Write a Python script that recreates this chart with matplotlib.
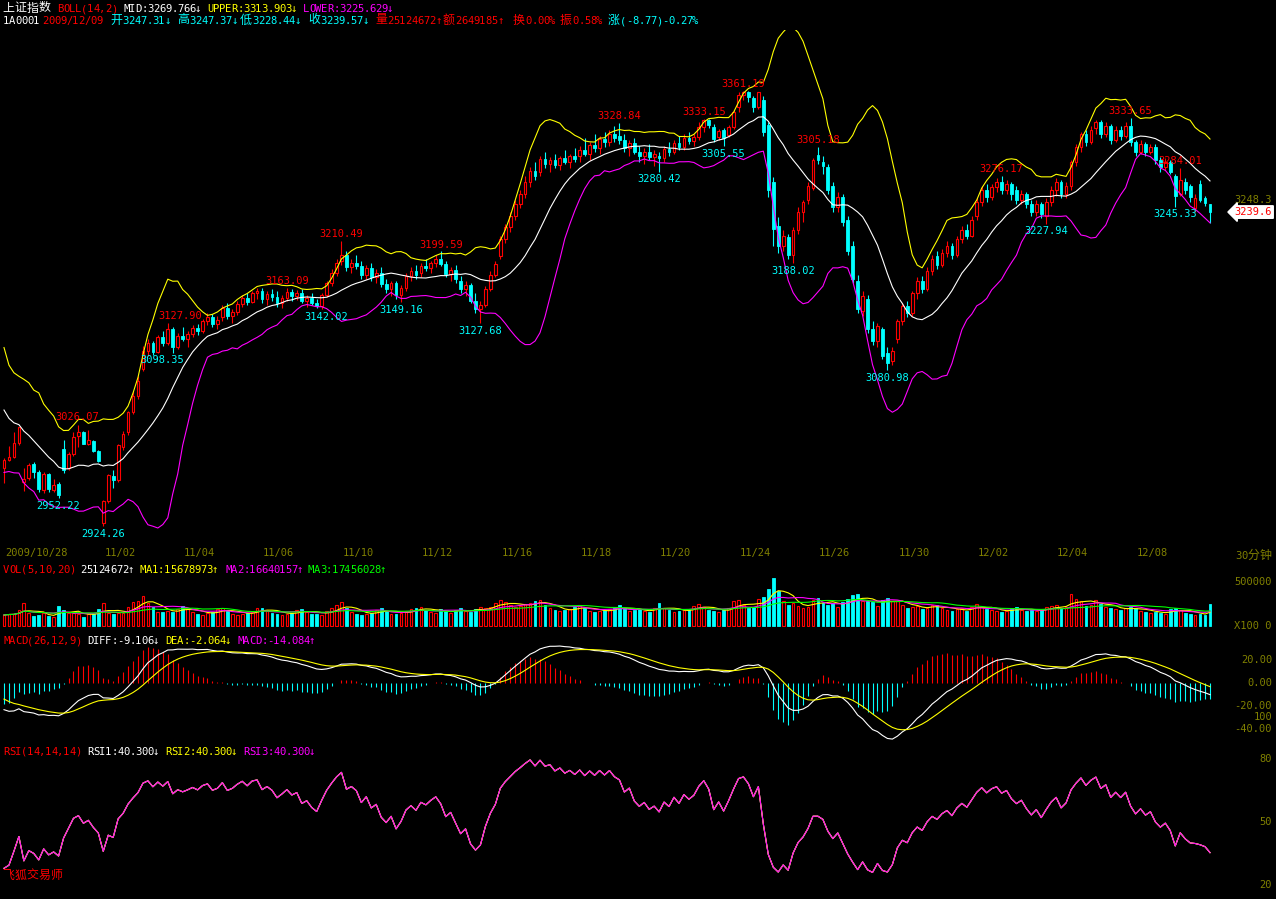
import numpy as np
import pandas as pd
import matplotlib
matplotlib.use('Agg')
import matplotlib.pyplot as plt
from matplotlib.transforms import blended_transform_factory

plt.rcParams['font.family'] = ['DejaVu Sans Mono', 'Noto Sans CJK SC']

RED = '#ff0000'
CYAN = '#00ffff'
YEL = '#ffff00'
MAG = '#ff00ff'
GRN = '#00ff00'
WHT = '#ffffff'
OLV = '#808000'

# 30分钟K线 (10/28下午 ~ 12/09), 每行一天
opens = [
    2982, 2990, 2993, 3007,
    2968, 2972, 2986, 2978, 2960, 2976, 2960, 2966,
    3001, 2982, 2996, 3015, 3019, 3006, 3010, 2999,
    2927, 2949, 2974, 2970, 3003, 3019, 3039, 3055,
    3082, 3100, 3108, 3099, 3114, 3108, 3122, 3104,
    3115, 3112, 3117, 3123, 3120, 3130, 3134, 3127,
    3134, 3143, 3135, 3139, 3147, 3153, 3149, 3158,
    3160, 3152, 3157, 3154, 3148, 3153, 3159, 3155,
    3158, 3150, 3153, 3148, 3145, 3156, 3168, 3178,
    3190, 3196, 3184, 3188, 3185, 3176, 3183, 3174,
    3178, 3167, 3162, 3168, 3156, 3163, 3175, 3180,
    3178, 3185, 3183, 3188, 3192, 3187, 3177, 3181,
    3170, 3162, 3166, 3150, 3142, 3146, 3162, 3176,
    3195, 3212, 3225, 3236, 3248, 3258, 3270, 3281,
    3280, 3293, 3288, 3292, 3287, 3294, 3290, 3296,
    3296, 3302, 3298, 3307, 3304, 3313, 3310, 3318,
    3316, 3312, 3304, 3309, 3300, 3296, 3300, 3295,
    3296, 3294, 3303, 3300, 3309, 3305, 3314, 3311,
    3315, 3325, 3332, 3325, 3315, 3322, 3317, 3325,
    3345, 3357, 3360, 3354, 3345, 3352, 3327, 3270,
    3226, 3205, 3214, 3196, 3222, 3240, 3252, 3264,
    3297, 3290, 3285, 3266, 3245, 3255, 3232, 3205,
    3170, 3140, 3152, 3122, 3110, 3122, 3098, 3090,
    3112, 3130, 3145, 3138, 3158, 3170, 3162, 3180,
    3195, 3186, 3198, 3205, 3196, 3212, 3222, 3216,
    3236, 3250, 3262, 3255, 3265, 3270, 3262, 3268,
    3262, 3252, 3258, 3248, 3240, 3248, 3236, 3250,
    3262, 3270, 3258, 3266, 3290, 3305, 3318, 3310,
    3324, 3330, 3318, 3326, 3312, 3322, 3316, 3326,
    3310, 3300, 3308, 3300, 3305, 3292, 3285, 3290,
    3276, 3258, 3270, 3266, 3244, 3268, 3254, 3247.31,
]
highs = [
    2992, 3004, 3019, 3024,
    2982, 2987, 2988, 2980, 2978, 2977, 2971, 2968,
    3011, 2998, 3019, 3026, 3020, 3021, 3011, 3000,
    2950, 2976, 2980, 3006, 3020, 3040, 3060, 3075,
    3105, 3112, 3110, 3116, 3120, 3128, 3124, 3118,
    3124, 3120, 3126, 3127, 3132, 3138, 3137, 3135,
    3146, 3148, 3142, 3150, 3156, 3158, 3160, 3163,
    3163, 3160, 3162, 3160, 3156, 3163, 3162, 3161,
    3162, 3156, 3158, 3152, 3158, 3170, 3182, 3192,
    3210, 3200, 3192, 3196, 3190, 3186, 3188, 3182,
    3184, 3172, 3170, 3170, 3166, 3178, 3184, 3186,
    3188, 3192, 3190, 3196, 3200, 3190, 3184, 3186,
    3175, 3170, 3168, 3158, 3150, 3165, 3180, 3190,
    3215, 3228, 3240, 3252, 3262, 3276, 3285, 3290,
    3296, 3300, 3295, 3298, 3296, 3302, 3298, 3304,
    3306, 3314, 3310, 3318, 3316, 3320, 3322, 3326,
    3329, 3318, 3312, 3314, 3306, 3304, 3308, 3302,
    3300, 3306, 3310, 3312, 3316, 3318, 3320, 3318,
    3330, 3333, 3333, 3328, 3323, 3324, 3327, 3342,
    3360, 3361, 3361, 3356, 3360, 3356, 3330, 3275,
    3235, 3222, 3218, 3225, 3245, 3252, 3270, 3294,
    3305, 3296, 3288, 3270, 3260, 3258, 3236, 3210,
    3176, 3160, 3156, 3130, 3128, 3124, 3104, 3104,
    3132, 3148, 3150, 3160, 3174, 3175, 3184, 3196,
    3200, 3202, 3210, 3208, 3216, 3226, 3228, 3236,
    3254, 3266, 3268, 3268, 3274, 3276, 3272, 3270,
    3266, 3262, 3260, 3252, 3252, 3250, 3254, 3266,
    3274, 3272, 3270, 3292, 3308, 3320, 3322, 3326,
    3332, 3332, 3330, 3328, 3326, 3326, 3330, 3334,
    3312, 3312, 3310, 3308, 3308, 3295, 3294, 3292,
    3278, 3284, 3274, 3268, 3258, 3272, 3256, 3247.37,
]
lows = [
    2967, 2989, 2992, 3005,
    2959, 2970, 2972, 2958, 2957, 2958, 2958, 2952,
    2977, 2980, 2994, 3003, 3006, 3005, 2998, 2988,
    2924, 2947, 2962, 2968, 3000, 3016, 3037, 3052,
    3080, 3095, 3096, 3098, 3105, 3106, 3098, 3102,
    3110, 3104, 3114, 3116, 3118, 3126, 3124, 3122,
    3130, 3132, 3128, 3136, 3144, 3146, 3148, 3152,
    3148, 3146, 3150, 3144, 3143, 3150, 3150, 3151,
    3148, 3144, 3146, 3143, 3142, 3154, 3165, 3175,
    3186, 3180, 3178, 3182, 3172, 3172, 3170, 3168,
    3164, 3158, 3155, 3152, 3149, 3160, 3170, 3172,
    3174, 3180, 3178, 3184, 3185, 3174, 3170, 3168,
    3158, 3155, 3148, 3138, 3128, 3144, 3160, 3174,
    3192, 3208, 3220, 3232, 3244, 3254, 3265, 3272,
    3276, 3284, 3280, 3284, 3282, 3288, 3284, 3290,
    3290, 3296, 3292, 3300, 3298, 3305, 3306, 3310,
    3308, 3300, 3296, 3298, 3290, 3288, 3292, 3286,
    3280, 3290, 3296, 3298, 3302, 3302, 3308, 3306,
    3312, 3320, 3324, 3310, 3312, 3306, 3315, 3323,
    3340, 3352, 3350, 3340, 3343, 3316, 3255, 3205,
    3198, 3200, 3192, 3188, 3218, 3230, 3248, 3262,
    3288, 3278, 3258, 3240, 3240, 3226, 3196, 3168,
    3138, 3135, 3118, 3106, 3104, 3092, 3081, 3086,
    3108, 3126, 3134, 3135, 3152, 3158, 3160, 3176,
    3182, 3184, 3194, 3192, 3194, 3208, 3212, 3214,
    3232, 3246, 3250, 3252, 3260, 3258, 3258, 3252,
    3248, 3248, 3244, 3236, 3236, 3234, 3228, 3246,
    3256, 3254, 3254, 3262, 3286, 3300, 3306, 3308,
    3318, 3314, 3315, 3308, 3310, 3312, 3314, 3306,
    3296, 3298, 3296, 3298, 3288, 3280, 3282, 3278,
    3245, 3256, 3258, 3250, 3240, 3250, 3246, 3228.44,
]
closes = [
    2990, 2993, 3007, 3024,
    2971, 2985, 2978, 2961, 2976, 2961, 2965, 2955,
    2980, 2996, 3014, 3019, 3006, 3011, 2999, 2989,
    2949, 2975, 2970, 3005, 3017, 3039, 3055, 3070,
    3100, 3108, 3099, 3114, 3108, 3122, 3104, 3115,
    3112, 3117, 3123, 3120, 3130, 3134, 3127, 3131,
    3143, 3135, 3139, 3147, 3153, 3149, 3158, 3160,
    3152, 3157, 3154, 3148, 3153, 3159, 3155, 3158,
    3150, 3153, 3148, 3145, 3156, 3168, 3178, 3188,
    3196, 3184, 3188, 3185, 3176, 3183, 3174, 3178,
    3167, 3162, 3168, 3156, 3163, 3175, 3180, 3176,
    3185, 3183, 3188, 3192, 3187, 3177, 3181, 3172,
    3162, 3166, 3150, 3142, 3146, 3162, 3176, 3187,
    3212, 3225, 3236, 3248, 3258, 3270, 3281, 3276,
    3293, 3288, 3292, 3287, 3294, 3290, 3296, 3293,
    3302, 3298, 3307, 3304, 3313, 3310, 3318, 3314,
    3312, 3304, 3309, 3300, 3296, 3300, 3295, 3298,
    3294, 3303, 3300, 3309, 3305, 3314, 3311, 3315,
    3325, 3332, 3327, 3313, 3321, 3314, 3325, 3340,
    3357, 3360, 3355, 3345, 3360, 3320, 3262, 3223,
    3205, 3215, 3196, 3222, 3240, 3250, 3266, 3292,
    3292, 3286, 3262, 3245, 3255, 3230, 3200, 3172,
    3142, 3155, 3122, 3110, 3125, 3095, 3088, 3100,
    3130, 3145, 3138, 3158, 3170, 3162, 3180, 3192,
    3186, 3198, 3205, 3196, 3212, 3222, 3216, 3232,
    3250, 3262, 3255, 3265, 3270, 3262, 3268, 3258,
    3252, 3258, 3248, 3240, 3248, 3238, 3250, 3262,
    3270, 3258, 3266, 3290, 3305, 3318, 3310, 3322,
    3330, 3318, 3326, 3312, 3322, 3316, 3326, 3310,
    3300, 3308, 3300, 3305, 3292, 3285, 3290, 3280,
    3256, 3272, 3262, 3255, 3254, 3252, 3249, 3239.57,
]
# 成交量 (千手)
volumes_k = [
    125, 136, 136, 182,
    261, 148, 114, 125, 148, 114, 102, 227,
    182, 148, 148, 136, 102, 140, 136, 193,
    261, 148, 136, 148, 150, 216, 273, 284,
    340, 261, 216, 160, 160, 170, 160, 190,
    230, 190, 160, 140, 130, 150, 160, 190,
    210, 170, 140, 130, 140, 150, 160, 200,
    210, 180, 150, 140, 130, 140, 150, 180,
    190, 160, 140, 140, 130, 170, 200, 240,
    270, 200, 160, 140, 130, 140, 150, 180,
    200, 170, 140, 140, 150, 170, 190, 210,
    220, 180, 160, 150, 190, 170, 150, 180,
    200, 170, 160, 190, 220, 200, 220, 260,
    290, 270, 240, 220, 230, 250, 260, 280,
    300, 240, 200, 180, 170, 180, 190, 220,
    240, 200, 170, 160, 170, 180, 190, 210,
    240, 200, 170, 180, 190, 170, 160, 200,
    260, 210, 180, 160, 170, 180, 190, 230,
    250, 220, 180, 170, 160, 180, 210, 280,
    300, 240, 200, 220, 310, 330, 420, 545,
    400, 280, 240, 260, 230, 210, 220, 300,
    320, 260, 240, 260, 220, 270, 310, 350,
    360, 280, 280, 270, 230, 300, 320, 280,
    280, 240, 200, 220, 230, 190, 200, 240,
    240, 200, 180, 170, 190, 200, 170, 220,
    250, 220, 190, 180, 170, 160, 170, 200,
    220, 180, 170, 180, 170, 180, 220, 230,
    240, 200, 220, 360, 310, 280, 230, 240,
    300, 250, 220, 200, 190, 180, 200, 220,
    200, 170, 160, 150, 160, 150, 140, 190,
    210, 180, 150, 140, 130, 140, 120, 251.24672,
]
# 图左侧之前的收盘价, 用于指标预热
prior_closes = [
    3060, 3065, 3070, 3068, 3072, 3075, 3078, 3080, 3076, 3079, 3082, 3084,
    3085, 3090, 3095, 3100, 3098, 3102, 3105, 3108,
    3112, 3120, 3125, 3130, 3128, 3124, 3118, 3110,
    3070, 3050, 3062, 3045, 3055, 3040, 3052, 3035,
    3025, 3035, 3005, 2995,
]

date_bars = [0, 20, 36, 52, 68, 84, 100, 116, 132, 148, 164, 180, 196, 212, 228]
date_labels = ['2009/10/28', '11/02', '11/04', '11/06', '11/10', '11/12', '11/16',
               '11/18', '11/20', '11/24', '11/26', '11/30', '12/02', '12/04', '12/08']

# 高低点标注
hl_bars = [14.7, 10.9, 20, 35.5, 31.8, 57, 65, 68, 80, 88, 96, 124, 132, 141,
           145, 149, 159, 164, 178, 201, 210, 227, 237, 236]
hl_texts = ['3026.07', '2952.22', '2924.26', '3127.90', '3098.35', '3163.09', '3142.02',
            '3210.49', '3149.16', '3199.59', '3127.68', '3328.84', '3280.42', '3333.15',
            '3305.55', '3361.19', '3188.02', '3305.18', '3080.98', '3276.17', '3227.94',
            '3333.65', '3284.01', '3245.33']
hl_kind = ['h', 'l', 'l', 'h', 'l', 'h', 'l', 'h', 'l', 'h', 'l', 'h', 'l', 'h',
           'l', 'h', 'l', 'h', 'l', 'h', 'l', 'h', 'h', 'l']

o = np.array(opens, float)
h = np.array(highs, float)
l = np.array(lows, float)
c = np.array(closes, float)
vol = np.array(volumes_k, float) * 1000
n = len(c)
idx = np.arange(n)
up = c >= o

# 指标
s = pd.Series(np.r_[prior_closes, c])
mid = s.rolling(14).mean().values[-n:]
std = s.rolling(14).std(ddof=1).values[-n:]
upper = mid + 2 * std
lower = mid - 2 * std

ema12 = s.ewm(span=12, adjust=False).mean()
ema26 = s.ewm(span=26, adjust=False).mean()
diff = ema12 - ema26
dea = diff.ewm(span=9, adjust=False).mean()
macd = (2 * (diff - dea)).values[-n:]
diff = diff.values[-n:]
dea = dea.values[-n:]

d = s.diff()
gain = d.clip(lower=0).ewm(alpha=1 / 14, adjust=False).mean()
loss = (-d.clip(upper=0)).ewm(alpha=1 / 14, adjust=False).mean()
rsi = (100 * gain / (gain + loss)).values[-n:]

vs = pd.Series(vol)
vma5 = vs.rolling(5, min_periods=1).mean()
vma10 = vs.rolling(10, min_periods=1).mean()
vma20 = vs.rolling(20, min_periods=1).mean()

# 画布
W, H = 1276, 899
fig = plt.figure(figsize=(W / 100, H / 100), dpi=100, facecolor='black')


def px_axes(x0, y0, x1, y1):
    ax = fig.add_axes([x0 / W, 1 - y1 / H, (x1 - x0) / W, (y1 - y0) / H])
    ax.set_facecolor('black')
    for sp in ax.spines.values():
        sp.set_visible(False)
    ax.set_xticks([])
    ax.set_yticks([])
    ax.set_xlim(-4 / 4.963, (1218 - 4) / 4.963)
    return ax


def mtext(x, y, s, color):
    # 等宽点阵风格: 汉字占两格, 其余一格
    yb = 1 - (y + 4) / H
    for ch in s:
        if ord(ch) >= 0x2E80:
            fig.text(x / W, yb + 0.5 / H, ch, color=color, fontsize=8.6,
                     family='Noto Sans CJK SC', va='baseline', ha='left')
            x += 12.2
        else:
            fig.text(x / W, yb, ch, color=color, fontsize=7.6,
                     family='DejaVu Sans Mono', va='baseline', ha='left')
            x += 6.0


def rlabel(ax, y, s, color=OLV):
    tr = blended_transform_factory(fig.transFigure, ax.transData)
    ax.text(1272 / W, y, s, color=color, fontsize=7.5, ha='right', va='center',
            transform=tr, clip_on=False)


ax_p = px_axes(0, 30, 1218, 545)
ax_p.set_ylim(2905, 3422.5)
ax_v = px_axes(0, 574, 1218, 627)
ax_v.set_ylim(-11364, 590909)
ax_m = px_axes(0, 643, 1218, 742)
ax_m.set_ylim(-51.3, 34.8)
ax_r = px_axes(0, 745, 1218, 895)
ax_r.set_ylim(15.24, 86.67)

# K线
col = np.where(up, RED, CYAN)
ax_p.vlines(idx, l, h, colors=col, lw=0.8, zorder=2)
bot = np.minimum(o, c)
bh = np.maximum(np.abs(c - o), 0.9)
ax_p.bar(idx[up], bh[up], bottom=bot[up], width=0.55, facecolor='black',
         edgecolor=RED, lw=0.8, zorder=3)
ax_p.bar(idx[~up], bh[~up], bottom=bot[~up], width=0.55, facecolor=CYAN,
         edgecolor=CYAN, lw=0.6, zorder=3)
ax_p.plot(idx, mid, color=WHT, lw=0.8, zorder=4)
ax_p.plot(idx, upper, color=YEL, lw=0.8, zorder=4)
ax_p.plot(idx, lower, color=MAG, lw=0.8, zorder=4)

for b, t, k in zip(hl_bars, hl_texts, hl_kind):
    if k == 'h':
        ax_p.annotate(t, (b, float(t)), xytext=(0, 1.5), textcoords='offset points',
                      ha='center', va='bottom', color=RED, fontsize=7.5, zorder=6)
    else:
        ax_p.annotate(t, (b, float(t)), xytext=(0, -2), textcoords='offset points',
                      ha='center', va='top', color=CYAN, fontsize=7.5, zorder=6)

rlabel(ax_p, 3251.5, '3248.3')
ax_p.text(1272 / W, c[-1], '%.1f' % c[-1], color=RED, fontsize=7.5, ha='right', va='center',
          transform=blended_transform_factory(fig.transFigure, ax_p.transData), clip_on=False,
          bbox=dict(boxstyle='larrow,pad=0.12', fc='white', ec='white'))

# 日期
tr_d = blended_transform_factory(ax_p.transData, fig.transFigure)
for b, t in zip(date_bars, date_labels):
    ax_p.text(b + 0.2, 1 - 553 / H, t, color=OLV, fontsize=7.5, ha='left', va='center',
              transform=tr_d, clip_on=False)
mtext(1235, 555, '30分钟', OLV)

# 成交量
ax_v.bar(idx[up], vol[up], width=0.55, facecolor='black', edgecolor=RED, lw=0.8)
ax_v.bar(idx[~up], vol[~up], width=0.55, facecolor=CYAN, edgecolor=CYAN, lw=0.6)
ax_v.plot(idx, vma5, color=YEL, lw=0.8)
ax_v.plot(idx, vma10, color=MAG, lw=0.8)
ax_v.plot(idx, vma20, color=GRN, lw=0.8)
rlabel(ax_v, 500000, '500000')
rlabel(ax_v, 0, 'X100 0')

# MACD
ax_m.vlines(idx, 0, macd, colors=np.where(macd >= 0, RED, CYAN), lw=0.8)
ax_m.plot(idx, diff, color=WHT, lw=0.8)
ax_m.plot(idx, dea, color=YEL, lw=0.8)
for v, t in [(20, '20.00'), (0, '0.00'), (-20, '-20.00'), (-40, '-40.00')]:
    rlabel(ax_m, v, t)

# RSI
ax_r.plot(idx, rsi, color=WHT, lw=0.8)
ax_r.plot(idx, rsi, color=YEL, lw=0.8)
ax_r.plot(idx, rsi, color=MAG, lw=0.8)
for v in [100, 80, 50, 20]:
    rlabel(ax_r, v, str(v))

# 标题行
mtext(2, 8, '上证指数', WHT)
mtext(57, 8, 'BOLL(14,2)', RED)
mtext(123, 8, 'MID:3269.766↓', WHT)
mtext(207, 8, 'UPPER:3313.903↓', YEL)
mtext(303, 8, 'LOWER:3225.629↓', MAG)

mtext(3, 20, '1A0001', WHT)
mtext(42, 20, '2009/12/09', RED)
mtext(110, 20, '开3247.31↓', CYAN)
mtext(177, 20, '高3247.37↓', CYAN)
mtext(240, 20, '低3228.44↓', CYAN)
mtext(308, 20, '收3239.57↓', CYAN)
mtext(375, 20, '量25124672↑', RED)
mtext(443, 20, '额2649185↑', RED)
mtext(513, 20, '换0.00%', RED)
mtext(560, 20, '振0.58%', RED)
mtext(608, 20, '涨(-8.77)-0.27%', CYAN)

mtext(3, 569, 'VOL(5,10,20)', RED)
mtext(80, 569, '25124672↑', WHT)
mtext(140, 569, 'MA1:15678973↑', YEL)
mtext(225, 569, 'MA2:16640157↑', MAG)
mtext(308, 569, 'MA3:17456028↑', GRN)

mtext(3, 640, 'MACD(26,12,9)', RED)
mtext(87, 640, 'DIFF:-9.106↓', WHT)
mtext(165, 640, 'DEA:-2.064↓', YEL)
mtext(237, 640, 'MACD:-14.084↑', MAG)

mtext(3, 751, 'RSI(14,14,14)', RED)
mtext(87, 751, 'RSI1:40.300↓', WHT)
mtext(165, 751, 'RSI2:40.300↓', YEL)
mtext(243, 751, 'RSI3:40.300↓', MAG)

mtext(2, 875, '飞狐交易师', RED)

fig.savefig('out.png', dpi=100, facecolor='black')
